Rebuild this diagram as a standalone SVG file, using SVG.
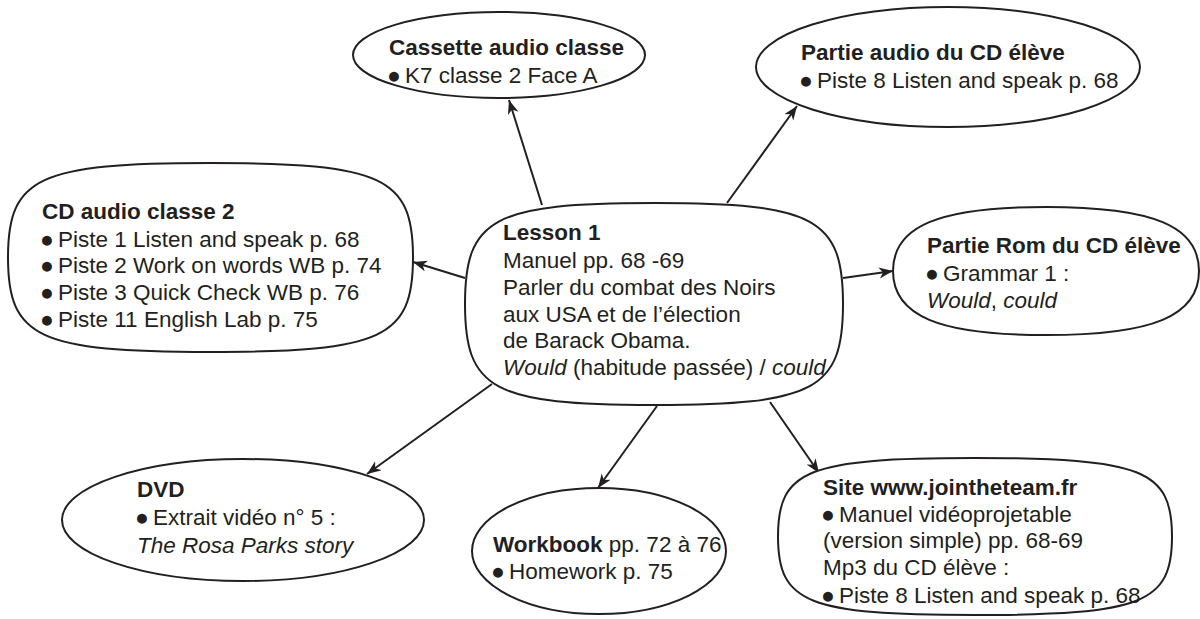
<svg xmlns="http://www.w3.org/2000/svg" width="1200" height="619" viewBox="0 0 1200 619">
<style>
.shape{fill:#fff;stroke:#231f20;stroke-width:2}
.conn{stroke:#231f20;stroke-width:2;fill:none}
text{font-family:"Liberation Sans",Arial,sans-serif;font-size:22.5px;fill:#231f20}
.b{font-weight:bold}
.i{font-style:italic}
.bl{font-size:23px}
</style>
<defs>
<marker id="arr" markerUnits="userSpaceOnUse" markerWidth="16" markerHeight="12" refX="14" refY="5.5" orient="auto">
<path d="M0,0 L14,5.5 L0,11 L4,5.5 Z" fill="#231f20"/>
</marker>
</defs>
<rect width="1200" height="619" fill="#fff"/>
<g id="connectors">
<line class="conn" x1="542" y1="205" x2="509" y2="100" marker-end="url(#arr)"/>
<line class="conn" x1="727" y1="203" x2="797" y2="106" marker-end="url(#arr)"/>
<line class="conn" x1="465" y1="278" x2="413" y2="262" marker-end="url(#arr)"/>
<line class="conn" x1="843" y1="278" x2="893" y2="271" marker-end="url(#arr)"/>
<line class="conn" x1="492" y1="384" x2="367" y2="474" marker-end="url(#arr)"/>
<line class="conn" x1="657" y1="406" x2="598" y2="488" marker-end="url(#arr)"/>
<line class="conn" x1="770" y1="402" x2="819" y2="473" marker-end="url(#arr)"/>
</g>
<g id="lesson1">
<path class="shape" d="M654,203 C814.65,203 843,218.15 843,304 C843,389.85 814.65,405 654,405 C493.35,405 465,389.85 465,304 C465,218.15 493.35,203 654,203 Z"/>
<text x="503" y="240" class="b">Lesson 1</text>
<text x="503" y="268">Manuel pp. 68 -69</text>
<text x="503" y="295">Parler du combat des Noirs</text>
<text x="503" y="322">aux USA et de l’élection</text>
<text x="503" y="348">de Barack Obama.</text>
<text x="503" y="375"><tspan class="i">Would</tspan> (habitude passée) / <tspan class="i">could</tspan></text>
</g>
<g id="cassette">
<ellipse class="shape" cx="499" cy="55" rx="146" ry="43"/>
<text x="389" y="55" class="b">Cassette audio classe</text>
<text x="387" y="83"><tspan class="bl">●</tspan><tspan x="405">K7 classe 2 Face A</tspan></text>
</g>
<g id="partie-audio">
<ellipse class="shape" cx="948" cy="67" rx="192" ry="60"/>
<text x="801" y="60" class="b">Partie audio du CD élève</text>
<text x="799" y="88"><tspan class="bl">●</tspan><tspan x="817">Piste 8 Listen and speak p. 68</tspan></text>
</g>
<g id="cd-audio">
<path class="shape" d="M210.5,163 C382.6,163 413,177.2 413,257.5 C413,337.8 382.6,352 210.5,352 C38.4,352 8,337.8 8,257.5 C8,177.2 38.4,163 210.5,163 Z"/>
<text x="42" y="219" class="b">CD audio classe 2</text>
<text x="40" y="247"><tspan class="bl">●</tspan><tspan x="58">Piste 1 Listen and speak p. 68</tspan></text>
<text x="40" y="273"><tspan class="bl">●</tspan><tspan x="58">Piste 2 Work on words WB p. 74</tspan></text>
<text x="40" y="300"><tspan class="bl">●</tspan><tspan x="58">Piste 3 Quick Check WB p. 76</tspan></text>
<text x="40" y="327"><tspan class="bl">●</tspan><tspan x="58">Piste 11 English Lab p. 75</tspan></text>
</g>
<g id="partie-rom">
<path class="shape" d="M1046,207 C1153.1,207 1199,226.2 1199,271 C1199,315.8 1153.1,335 1046,335 C938.9,335 893,315.8 893,271 C893,226.2 938.9,207 1046,207 Z"/>
<text x="927" y="253" class="b">Partie Rom du CD élève</text>
<text x="925" y="281"><tspan class="bl">●</tspan><tspan x="943">Grammar 1 :</tspan></text>
<text x="927" y="308"><tspan class="i">Would</tspan>, <tspan class="i">could</tspan></text>
</g>
<g id="dvd">
<ellipse class="shape" cx="243" cy="520" rx="181" ry="61"/>
<text x="137" y="497" class="b">DVD</text>
<text x="135" y="525"><tspan class="bl">●</tspan><tspan x="153">Extrait vidéo n° 5 :</tspan></text>
<text x="137" y="553" class="i">The Rosa Parks story</text>
</g>
<g id="workbook">
<ellipse class="shape" cx="599" cy="551" rx="127" ry="63"/>
<text x="493" y="552"><tspan class="b">Workbook</tspan> pp. 72 à 76</text>
<text x="491" y="579"><tspan class="bl">●</tspan><tspan x="509">Homework p. 75</tspan></text>
</g>
<g id="site">
<path class="shape" d="M975,458 C1142.45,458 1172,469.8 1172,536.5 C1172,603.2 1142.45,615 975,615 C807.55,615 778,603.2 778,536.5 C778,469.8 807.55,458 975,458 Z"/>
<text x="823" y="495" class="b">Site www.jointheteam.fr</text>
<text x="821" y="522"><tspan class="bl">●</tspan><tspan x="839">Manuel vidéoprojetable</tspan></text>
<text x="823" y="548">(version simple) pp. 68-69</text>
<text x="823" y="575">Mp3 du CD élève :</text>
<text x="821" y="603"><tspan class="bl">●</tspan><tspan x="839">Piste 8 Listen and speak p. 68</tspan></text>
</g>
</svg>
